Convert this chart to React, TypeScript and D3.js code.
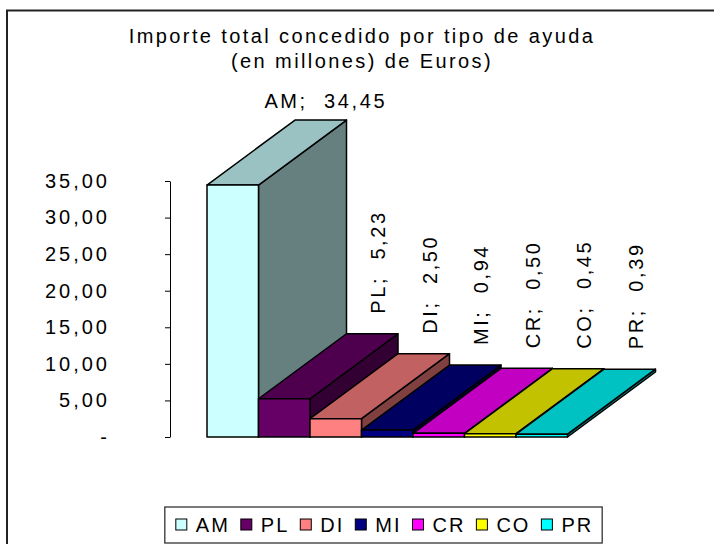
import * as d3 from "d3";
import { useEffect, useRef } from "react";

const categories = ["AM", "PL", "DI", "MI", "CR", "CO", "PR"];
const values = [34.45, 5.23, 2.5, 0.94, 0.5, 0.45, 0.39];
const colors = ["#CCFFFF", "#660066", "#FF8080", "#000080", "#FF00FF", "#FFFF00", "#00FFFF"];
const yTicks = [0, 5, 10, 15, 20, 25, 30, 35];
const titleLines = ["Importe total concedido por tipo de ayuda", "(en millones) de Euros)"];

const es = d3.formatLocale({ decimal: ",", thousands: ".", grouping: [3], currency: ["", " €"] });
const fmt = es.format(".2f");
const FONT = "'Liberation Sans', Arial, sans-serif";

const shade = (c: string, k: number) => {
  const r = d3.rgb(c);
  return d3.rgb(r.r * k, r.g * k, r.b * k).formatHex();
};

export default function App() {
  const ref = useRef<SVGSVGElement>(null);

  useEffect(() => {
    const svg = d3.select(ref.current);
    svg.selectAll("*").remove();

    const x = d3.scaleBand().domain(categories).range([207, 567.5]).padding(0);
    const y = d3.scaleLinear().domain([0, 35]).range([437, 181]);
    const dx = 88,
      dy = -65;
    const bw = x.bandwidth();

    // chart frame (right and bottom edges fall outside the picture)
    svg
      .append("rect")
      .attr("x", 7)
      .attr("y", 10.5)
      .attr("width", 720)
      .attr("height", 545)
      .attr("fill", "white")
      .attr("stroke", "#222")
      .attr("stroke-width", 2);

    // title
    svg
      .append("g")
      .selectAll("text")
      .data(titleLines)
      .join("text")
      .attr("x", 362)
      .attr("y", (d, i) => 43 + i * 25)
      .attr("text-anchor", "middle")
      .attr("font-family", FONT)
      .attr("font-size", 20)
      .attr("letter-spacing", 2.4)
      .text((d) => d);

    // y axis
    const axis = svg
      .append("g")
      .attr("transform", "translate(170,0)")
      .call(
        d3
          .axisLeft(y)
          .tickValues(yTicks)
          .tickSize(5)
          .tickSizeOuter(0)
          .tickPadding(55)
          .tickFormat((d: any) => (d === 0 ? "-" : fmt(d)))
      );
    axis.attr("font-family", FONT).attr("font-size", 20);
    axis.selectAll("text").attr("letter-spacing", 3).attr("fill", "#000");
    axis.selectAll("line, path").attr("stroke", "#000").attr("stroke-width", 1);

    // 3D bars, drawn left to right
    const bars = svg.append("g");
    categories.forEach((c, i) => {
      const v = values[i];
      const x0 = x(c)!;
      const x1 = x0 + bw;
      const yt = y(v);
      const yb = y(0);
      const g = bars.append("g").attr("stroke", "#000").attr("stroke-width", 1.5).attr("stroke-linejoin", "round");
      g.append("polygon")
        .attr("points", [[x1, yt], [x1 + dx, yt + dy], [x1 + dx, yb + dy], [x1, yb]].map((p) => p.join(",")).join(" "))
        .attr("fill", shade(colors[i], 0.5));
      g.append("polygon")
        .attr("points", [[x0, yt], [x0 + dx, yt + dy], [x1 + dx, yt + dy], [x1, yt]].map((p) => p.join(",")).join(" "))
        .attr("fill", shade(colors[i], 0.76));
      g.append("rect")
        .attr("x", x0)
        .attr("y", yt)
        .attr("width", bw)
        .attr("height", yb - yt)
        .attr("fill", colors[i]);
    });

    // value labels
    const maxV = d3.max(values)!;
    const labels = svg.append("g").attr("font-family", FONT).attr("font-size", 20).attr("letter-spacing", 2.6);
    categories.forEach((c, i) => {
      const v = values[i];
      const cx = x(c)! + bw / 2 + dx;
      const top = y(v) + dy;
      const t = labels.append("text").style("white-space", "pre").text(`${c};  ${fmt(v)}`);
      if (v === maxV) {
        t.attr("x", cx + 5).attr("y", top - 12).attr("text-anchor", "middle");
      } else {
        t.attr("transform", `translate(${cx + 13},${top - 20}) rotate(-90)`);
      }
    });

    // legend
    const leg = svg.append("g");
    const box = leg
      .append("rect")
      .attr("y", 507)
      .attr("height", 36)
      .attr("fill", "white")
      .attr("stroke", "#333")
      .attr("stroke-width", 1.3);
    const items = leg.append("g");
    const sp = 2;
    let cur = 0;
    categories.forEach((c, i) => {
      const it = items.append("g").attr("transform", `translate(${cur},0)`);
      it.append("rect")
        .attr("x", 0)
        .attr("y", 519)
        .attr("width", 11)
        .attr("height", 11)
        .attr("fill", colors[i])
        .attr("stroke", "#000")
        .attr("stroke-width", 1);
      const t = it
        .append("text")
        .attr("x", 20)
        .attr("y", 532)
        .attr("font-family", FONT)
        .attr("font-size", 20)
        .attr("letter-spacing", sp)
        .text(c);
      const w = (t.node() as SVGTextElement).getComputedTextLength() - sp;
      cur += 20 + w + 13;
    });
    const total = cur - 13;
    const start = 383.5 - total / 2;
    items.attr("transform", `translate(${start},0)`);
    box.attr("x", start - 11).attr("width", total + 22);
  }, []);

  return (
    <svg
      ref={ref}
      width={714}
      height={544}
      style={{ position: "absolute", left: 0, top: 0, background: "white" }}
    />
  );
}
